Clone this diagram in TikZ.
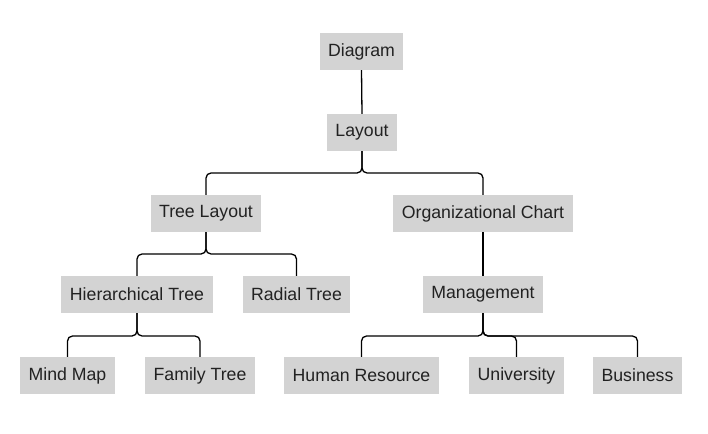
\documentclass[tikz,border=0pt]{standalone}
\usepackage{fontspec}
\setmainfont{Liberation Sans}
\begin{document}
\begin{tikzpicture}[x=1pt,y=-1pt,
  box/.style={fill={rgb,255:red,211;green,211;blue,211}, draw=none, minimum height=37pt, inner sep=0pt,
    text={rgb,255:red,34;green,34;blue,34}, font=\fontsize{17.7}{20}\selectfont},
  link/.style={draw=black, line width=1.3pt, rounded corners=5pt}]
\useasboundingbox[fill=white] (0,0) rectangle (708,433);
\node[box, minimum width=83pt] (diagram) at (361.5,51.5) {Diagram};
\node[box, minimum width=70pt] (layout) at (362,132.5) {Layout};
\node[box, minimum width=110pt] (tree) at (206,213.5) {Tree Layout};
\node[box, minimum width=180pt] (org) at (483,213.5) {Organizational Chart};
\node[box, minimum width=152pt] (hier) at (137,294.5) {Hierarchical Tree};
\node[box, minimum width=107pt] (radial) at (296.5,294.5) {Radial Tree};
\node[box, minimum width=120pt] (mgmt) at (483,294.5) {Management};
\node[box, minimum width=95pt] (mind) at (67.5,375.5) {Mind Map};
\node[box, minimum width=110pt] (family) at (200,375.5) {Family Tree};
\node[box, minimum width=155pt] (hr) at (361.5,375.5) {Human Resource};
\node[box, minimum width=95pt] (univ) at (516.5,375.5) {University};
\node[box, minimum width=89pt] (biz) at (637.5,375.5) {Business};
\coordinate (b1) at (0,173);
\coordinate (b2) at (0,254);
\coordinate (b3) at (0,336);
\draw[link] (diagram.south) -- (layout.north);
\draw[link] (layout.south) |- (tree.north |- b1) -- (tree.north);
\draw[link] (layout.south) |- (org.north |- b1) -- (org.north);
\draw[link] (tree.south) |- (hier.north |- b2) -- (hier.north);
\draw[link] (tree.south) |- (radial.north |- b2) -- (radial.north);
\draw[link] (org.south) -- (mgmt.north);
\draw[link] (hier.south) |- (mind.north |- b3) -- (mind.north);
\draw[link] (hier.south) |- (family.north |- b3) -- (family.north);
\draw[link] (mgmt.south) |- (hr.north |- b3) -- (hr.north);
\draw[link] (mgmt.south) |- (univ.north |- b3) -- (univ.north);
\draw[link] (mgmt.south) |- (biz.north |- b3) -- (biz.north);
\end{tikzpicture}
\end{document}
